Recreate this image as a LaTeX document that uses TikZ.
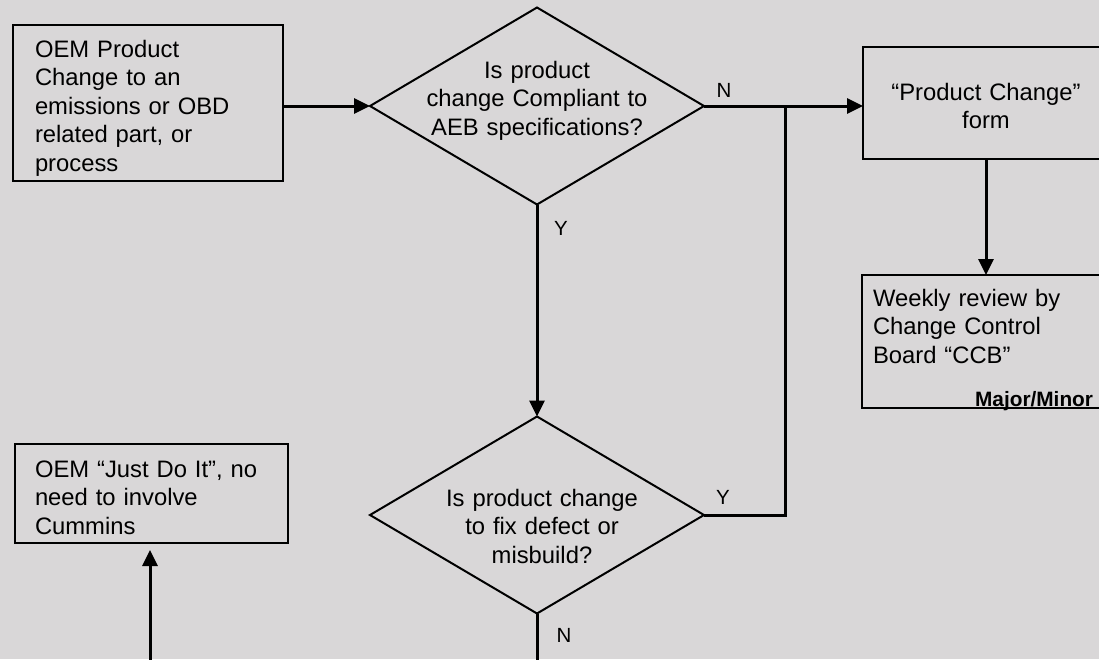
\documentclass[tikz,border=0pt]{standalone}
\usepackage{fontspec}
\setmainfont{Liberation Sans}
\usepackage{tikz}
\usetikzlibrary{arrows.meta,shapes.geometric,positioning}
\definecolor{bgGray}{RGB}{217,215,216}

\begin{document}
\begin{tikzpicture}[x=1pt, y=-1pt,
  every node/.style={outer sep=0pt, font=\fontsize{23.8}{28.5}\selectfont},
  stepbox/.style={draw, line width=2.5pt, anchor=north west, inner ysep=0pt, align=left},
  decision/.style={draw, diamond, line width=2pt, inner sep=0pt, minimum width=334pt, minimum height=197pt},
  question/.style={anchor=base, text width=260pt, align=center, inner sep=0pt},
  yn/.style={font=\fontsize{20.5}{24}\selectfont, inner sep=0pt},
  flow/.style={line width=3pt, -{Triangle[length=16pt,width=15pt]}},
  wire/.style={line width=3pt}]
\useasboundingbox (0,0) rectangle (1099,659);
\fill[bgGray] (0,0) rectangle (1099,659);
\begin{scope}
\clip (0,0) rectangle (1099,659);
%
% boxes
\node (oemChange) [stepbox, inner xsep=22pt, text width=226pt, text height=32pt, text depth=124pt] at (13,25)
  {OEM Product\\ Change to an\\ emissions or OBD\\ related part, or\\ process};
\node (justDoIt) [stepbox, inner xsep=20pt, text width=233pt, text height=33pt, text depth=66pt] at (15,444)
  {OEM “Just Do It”, no\\ need to involve\\ Cummins};
\node (pcForm) [stepbox, align=center, inner xsep=0pt, text width=246pt, text height=53pt, text depth=59pt] at (863,47)
  {“Product Change”\\ form};
\node (wkReview) [stepbox, inner xsep=11pt, text width=240pt, text height=31pt, text depth=102pt] at (862,275)
  {Weekly review by\\ Change Control\\ Board “CCB”};
\node (wkTag) [anchor=base east, inner sep=0pt, font=\bfseries\fontsize{20.8}{24}\selectfont] at (1093,406) {Major/Minor};
%
% decisions
\node (dCompliant) [decision] at (537,106) {};
\node (dCompliantTxt) [question] at (537,78) {Is product\\ change Compliant to\\ AEB specifications?};
\node (dFix) [decision] at (537,515) {};
\node (dFixTxt) [question] at (542,506) {Is product change\\ to fix defect or\\ misbuild?};
%
% Y / N labels
\node (lblN1) [yn] at (724,90) {N};
\node (lblY1) [yn] at (561,228) {Y};
\node (lblY2) [yn] at (723,497) {Y};
\node (lblN2) [yn] at (564,635) {N};
%
% connectors
\coordinate (ynJoin) at (785,106);
\coordinate (offLeft) at (150,670);
\coordinate (offMid) at (537,670);
\draw[flow] (oemChange.east |- dCompliant.west) -- (dCompliant.west);
\draw[flow] (dCompliant.east) -- (dCompliant.east -| pcForm.west);
\draw[flow] (dCompliant.south) -- (dFix.north);
\draw[wire] (dFix.east) -| (ynJoin);
\draw[flow] (pcForm.south) -- (pcForm.south |- wkReview.north);
\draw[flow, shorten >=7pt] (offLeft) -- (offLeft |- justDoIt.south);
\draw[wire] (dFix.south) -- (offMid);
%
\end{scope}
\end{tikzpicture}
\end{document}
